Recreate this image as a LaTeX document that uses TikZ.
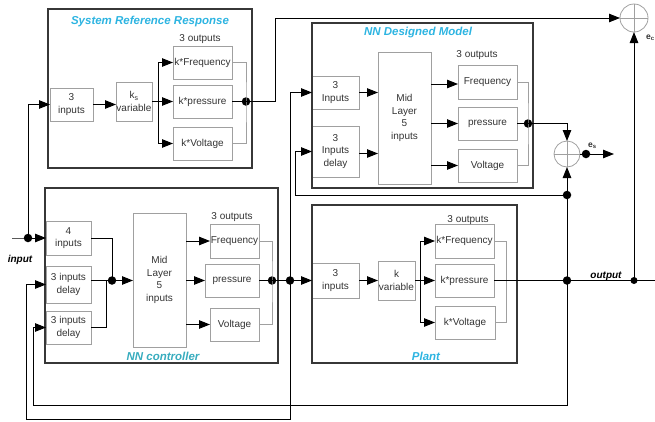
\documentclass[tikz,border=0pt]{standalone}
\usepackage{fontspec}
\setmainfont{Liberation Sans}
\usetikzlibrary{arrows.meta}
\definecolor{ttlblue}{RGB}{45,180,225}
\definecolor{ttlteal}{RGB}{55,172,190}
\definecolor{gboxc}{RGB}{160,160,160}
\definecolor{oboxc}{RGB}{55,55,55}
\newcommand\mkbox[7]{\node[#1, anchor=north west, minimum width={#5pt-#3pt}, minimum height={#6pt-#4pt}] (#2) at (#3,#4) {#7};}
\begin{document}
\begin{tikzpicture}[x=1pt,y=-1pt,
 ibox/.style={draw=gboxc, line width=0.8pt, inner sep=0pt, outer sep=0pt, align=center, font=\fontsize{10}{12.5}\selectfont, text=black!80},
 obox/.style={draw=oboxc, line width=1.7pt, inner sep=0pt, outer sep=0pt},
 ttl/.style={font=\fontsize{11.5}{13}\selectfont\bfseries\itshape, text=ttlblue, inner sep=0pt},
 lbl/.style={font=\fontsize{10}{11}\selectfont, inner sep=0pt, text=black!80},
 blbl/.style={font=\fontsize{10}{11}\selectfont\bfseries\itshape, inner sep=0pt},
 wire/.style={draw=black, line width=0.9pt},
 gwire/.style={draw=gboxc, line width=0.8pt},
 arr/.style={wire, -{Triangle[length=11pt,width=8.5pt]}},
 dotn/.style={circle, fill=black, inner sep=0pt, minimum size=8.5pt},
 sumc/.style={circle, draw=gboxc, line width=0.8pt, inner sep=0pt, outer sep=0pt},
]
\useasboundingbox (0,0) rectangle (655,421);

% ---------- System Reference Response ----------
\mkbox{ibox}{srrin}{50}{88}{93}{121}{3\\inputs}
\mkbox{ibox}{srrk}{116}{82}{152}{121}{k\textsubscript{s}\\variable}
\mkbox{ibox}{srrf}{173}{46}{232}{79}{k*Frequency}
\mkbox{ibox}{srrp}{173}{85}{232}{118}{k*pressure}
\mkbox{ibox}{srrv}{173}{127}{232}{160}{k*Voltage}
\node[lbl] (srro) at (200,39) {3 outputs};
\mkbox{obox}{srr}{48}{9}{252}{168}{}
\node[ttl] (srrt) at (150,22) {System Reference Response};

% ---------- NN Designed Model ----------
\mkbox{ibox}{ndmin}{312}{76}{359}{109}{3\\Inputs}
\mkbox{ibox}{ndmd}{312}{126}{359}{177}{3\\Inputs\\delay}
\mkbox{ibox}{ndmm}{378}{52}{431}{184}{Mid\\Layer\\5\\inputs}
\mkbox{ibox}{nf}{458}{65}{517}{99}{Frequency}
\mkbox{ibox}{np}{458}{107}{517}{140}{pressure}
\mkbox{ibox}{nv}{458}{149}{517}{182}{Voltage}
\node[lbl] (ndmo) at (477,55) {3 outputs};
\mkbox{obox}{ndm}{312}{23}{533}{188}{}
\node[ttl] (ndmt) at (418,33) {NN Designed Model};

% ---------- NN controller ----------
\mkbox{ibox}{c4}{46}{221}{91}{255}{4\\inputs}
\mkbox{ibox}{cd1}{46}{266}{91}{303}{3 inputs\\delay}
\mkbox{ibox}{cd2}{46}{311}{91}{344}{3 inputs\\delay}
\mkbox{ibox}{cmid}{133}{213}{186}{347}{Mid\\Layer\\5\\inputs}
\mkbox{ibox}{cf}{210}{224}{259}{258}{Frequency}
\mkbox{ibox}{cp}{205}{264}{259}{297}{pressure}
\mkbox{ibox}{cv}{210}{308}{259}{341}{Voltage}
\node[lbl] (co) at (232,217) {3 outputs};
\mkbox{obox}{ctl}{45}{188}{278}{363}{}
\node[ttl, text=ttlteal] (ctlt) at (163,356) {NN controller};

% ---------- Plant ----------
\mkbox{ibox}{pin}{312}{263}{359}{298}{3\\inputs}
\mkbox{ibox}{pk}{378}{261}{415}{300}{k\\variable}
\mkbox{ibox}{pf}{435}{224}{494}{258}{k*Frequency}
\mkbox{ibox}{pp}{435}{264}{494}{297}{k*pressure}
\mkbox{ibox}{pv}{435}{306}{495}{339}{k*Voltage}
\node[lbl] (po) at (468,220) {3 outputs};
\mkbox{obox}{plant}{312}{205}{517}{363}{}
\node[ttl] (plantt) at (426,356) {Plant};

% ---------- summing junctions ----------
\node[sumc, minimum size=28pt] (ec) at (634,18) {};
\draw[gwire] (ec.north) -- (ec.south) (ec.west) -- (ec.east);
\node[sumc, minimum size=26pt] (es) at (567,154) {};
\draw[gwire] (es.north) -- (es.south) (es.west) -- (es.east);
\node[font=\fontsize{8.5}{9}\selectfont\bfseries, text=black!80, anchor=west, inner sep=0pt] (ecl) at (646,38) {e\textsubscript{c}};
\node[font=\fontsize{8.5}{9}\selectfont\bfseries, text=black!80, anchor=west, inner sep=0pt] (esl) at (588,146) {e\textsubscript{s}};

% ---------- junction dots ----------
\node[dotn] (din) at (28,238) {};
\node[dotn] (ds) at (246,101.5) {};
\node[dotn] (dn) at (528,123.5) {};
\node[dotn] (cj) at (112,280.5) {};
\node[dotn] (dc) at (272,280.5) {};
\node[dotn] (dj) at (290,280.5) {};
\node[dotn] (dout) at (567,280.5) {};
\node[dotn, minimum size=7pt] (dout2) at (634,280.5) {};
\node[dotn] (dfb) at (567,195) {};
\node[dotn] (des) at (586,154) {};

\coordinate (inl) at (12,238);
\coordinate (srrup) at (275,18);
\coordinate (esout) at (614,154);
\coordinate (pend) at (655,280.5);
\coordinate (fb2) at (295,195);
\coordinate (l1a) at (567,405);
\coordinate (l1b) at (33,405);
\coordinate (l2a) at (290,419);
\coordinate (l2b) at (26,419);
\coordinate (cj2) at (106,280.5);
\coordinate (ndin2) at (359,153.5);
\coordinate (nfin) at (431,84);

% ---------- input ----------
\node[blbl] (inlbl) at (20,260) {input};
\draw[arr] (inl) -- (din.center) -- (c4.west);
\draw[arr] (din.center) |- (srrin.west);

% ---------- SRR wiring ----------
\draw[arr] (srrin.east) -- (srrin.east -| srrk.west);
\draw[wire] (srrk.east) -- ++(6,0) coordinate (jsrr);
\draw[wire] (jsrr |- srrf.west) -- (jsrr |- srrv.west);
\draw[arr] (jsrr |- srrf.west) -- (srrf.west);
\draw[arr] (jsrr) -- (srrp.west);
\draw[arr] (jsrr |- srrv.west) -- (srrv.west);
\draw[gwire] (srrf.east) -| (ds.center) |- (srrv.east);
\draw[wire] (srrp.east) -- (ds.center);
\draw[arr] (ds.center) -| (srrup) -- (ec.west);

% ---------- NDM wiring ----------
\draw[arr] (ndmin.east) -- (ndmin.east -| ndmm.west);
\draw[arr] (ndin2) -- (ndin2 -| ndmm.west);
\draw[arr] (nfin) -- (nfin -| nf.west);
\draw[arr] (ndmm.east |- np.west) -- (np.west);
\draw[arr] (ndmm.east |- nv.west) -- (nv.west);
\draw[gwire] (nf.east) -| (dn.center) |- (nv.east);
\draw[wire] (np.east) -- (dn.center);
\draw[arr] (dn.center) -| (es.north);
\draw[wire] (es.east) -- (des.center);
\draw[arr] (des.center) -- (esout);

% ---------- controller wiring ----------
\draw[wire] (c4.east) -| (cj.center);
\draw[wire] (cd1.east |- cj) -- (cj.center);
\draw[wire] (cd2.east) -| (cj2);
\draw[arr] (cj.center) -- (cj -| cmid.west);
\draw[arr] (cmid.east |- cf.west) -- (cf.west);
\draw[arr] (cmid.east |- cp.west) -- (cp.west);
\draw[arr] (cmid.east |- cv.west) -- (cv.west);
\draw[gwire] (cf.east) -| (dc.center) |- (cv.east);
\draw[wire] (cp.east) -- (dc.center);
\draw[arr] (dc.center) -- (dj.center) -- (pin.west);

% ---------- plant wiring ----------
\draw[arr] (pin.east) -- (pk.west);
\draw[wire] (pk.east) -- ++(5,0) coordinate (pjb);
\draw[wire] (pjb |- pf.west) -- (pjb |- pv.west);
\draw[arr] (pjb |- pf.west) -- (pf.west);
\draw[arr] (pjb) -- (pp.west);
\draw[arr] (pjb |- pv.west) -- (pv.west);
\draw[gwire] (pf.east) -- ++(12,0) coordinate (pg) -- (pg |- pv.east) -- (pv.east);
\draw[wire] (pp.east) -- (dout.center) -- (dout2.center) -- (pend);
\node[blbl, anchor=base] (outlbl) at (606,278.5) {output};

% ---------- feedback ----------
\draw[arr] (dout2.center) -- (ec.south);
\draw[wire] (dout.center) -- (dfb.center);
\draw[arr] (dfb.center) -- (es.south);
\draw[arr] (dfb.center) -- (fb2) |- (ndmd.west);
\draw[arr] (dj.center) |- (ndmin.west);
\draw[arr] (dout.center) -- (l1a) -- (l1b) |- (cd2.west);
\draw[arr] (dj.center) -- (l2a) -- (l2b) |- (cd1.west);
\end{tikzpicture}
\end{document}
